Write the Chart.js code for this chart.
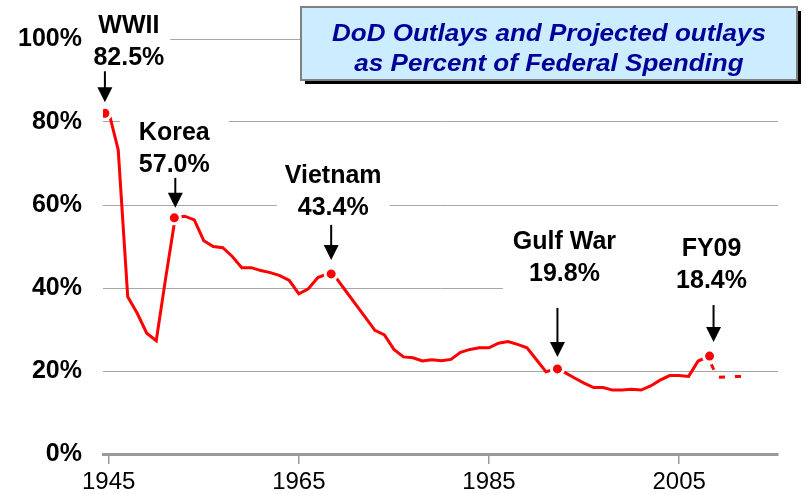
<!DOCTYPE html>
<html><head><meta charset="utf-8">
<script src="https://cdn.jsdelivr.net/npm/chart.js@4/dist/chart.umd.min.js"></script>
<style>html,body{margin:0;padding:0;background:#fff}</style>
</head><body>
<canvas id="c" width="806" height="494"></canvas>
<script>
// ---- data ----
const actualYears = [1945,1946,1947,1948,1949,1950,1951,1952,1953,1954,1955,1956,1957,1958,1959,1960,1961,1962,1963,1964,1965,1966,1967,1968,1969,1970,1971,1972,1973,1974,1975,1976,1977,1978,1979,1980,1981,1982,1983,1984,1985,1986,1987,1988,1989,1990,1991,1992,1993,1994,1995,1996,1997,1998,1999,2000,2001,2002,2003,2004,2005,2006,2007,2008];
const actualPct = [82.5,73.3,37.9,33.9,29.1,27.3,42.5,57.0,57.3,56.4,51.4,50.0,49.7,47.6,44.9,44.9,44.2,43.7,43.0,41.8,38.6,39.8,42.5,43.4,42.2,39.1,36.0,32.9,29.8,28.7,25.2,23.4,23.2,22.4,22.7,22.5,22.8,24.5,25.2,25.6,25.6,26.7,27.1,26.4,25.6,22.7,19.8,20.5,19.6,18.3,17.1,16.0,16.0,15.4,15.4,15.6,15.4,16.4,17.8,18.9,18.9,18.7,22.4,23.4];
const projectedYears = [2008,2009,2010,2011,2012];
const projectedPct = [23.6,18.5,18.6,18.7,18.7];
const markerYears = [1944.6,1951.9,1968.4,1992.2,2008.2];
const markerPct = [82.1,56.9,43.4,20.5,23.6];
const eventNames = ["WWII","Korea","Vietnam","Gulf War","FY09"];
const eventLabels = ["82.5%","57.0%","43.4%","19.8%","18.4%"];
const xTickYears = [1945,1965,1985,2005];
const yTickValues = [0,20,40,60,80,100];
const titleLines = ["DoD Outlays and Projected outlays","as Percent of Federal Spending"];

// ---- layout / style (pixel offsets relative to each marker) ----
const annLayout = [
  {arrowDx:0, tipGap:11, len:31, textDx:24, base2Gap:6, padL:6, padR:6},
  {arrowDx:1, tipGap:10, len:30, textDx:0, base2Gap:6, padL:19, padR:19},
  {arrowDx:0, tipGap:14, len:35, textDx:2, base2Gap:10, padL:8, padR:8},
  {arrowDx:0, tipGap:12, len:49, textDx:7, base2Gap:27, padL:10, padR:56},
  {arrowDx:4, tipGap:14, len:37, textDx:2, base2Gap:17, padL:12, padR:32}
];
const FONT = "'Liberation Sans', Arial, sans-serif";

const annotPlugin = {
  id: 'annot',
  beforeDatasetsDraw(chart) {
    const ctx = chart.ctx, xs = chart.scales.x, ys = chart.scales.y;
    ctx.save();
    ctx.font = "bold 25px " + FONT;
    eventNames.forEach((n, i) => {
      const L = annLayout[i];
      const mx = xs.getPixelForValue(markerYears[i]), my = ys.getPixelForValue(markerPct[i]);
      const start = my - L.tipGap - L.len;
      const b2 = start - L.base2Gap, b1 = b2 - 32;
      const cx = mx + L.textDx;
      const w = Math.max(ctx.measureText(n).width, ctx.measureText(eventLabels[i]).width);
      ctx.fillStyle = '#fff';
      ctx.fillRect(cx - w/2 - L.padL, b1 - 22, w + L.padL + L.padR, (b2 + 10) - (b1 - 22));
    });
    ctx.restore();
  },
  afterDatasetsDraw(chart) {
    const ctx = chart.ctx, xs = chart.scales.x, ys = chart.scales.y;
    ctx.save();
    ctx.font = "bold 25px " + FONT;
    ctx.textAlign = 'center';
    ctx.textBaseline = 'alphabetic';
    eventNames.forEach((n, i) => {
      const L = annLayout[i];
      const mx = xs.getPixelForValue(markerYears[i]), my = ys.getPixelForValue(markerPct[i]);
      const ax = mx + L.arrowDx;
      const tip = my - L.tipGap, start = tip - L.len;
      const b2 = start - L.base2Gap, b1 = b2 - 32;
      const cx = mx + L.textDx;
      ctx.fillStyle = '#000';
      ctx.fillText(n, cx, b1);
      ctx.fillText(eventLabels[i], cx, b2);
      ctx.strokeStyle = '#000';
      ctx.lineWidth = 2;
      ctx.beginPath();
      ctx.moveTo(ax, start);
      ctx.lineTo(ax, tip - 12);
      ctx.stroke();
      ctx.beginPath();
      ctx.moveTo(ax - 7.5, tip - 15);
      ctx.lineTo(ax + 7.5, tip - 15);
      ctx.lineTo(ax, tip);
      ctx.closePath();
      ctx.fill();
    });
    ctx.restore();
  },
  afterDraw(chart) {
    const ctx = chart.ctx;
    ctx.save();
    const bx = 301, by = 7, bw = 496, bh = 73;
    ctx.fillStyle = '#000';
    ctx.fillRect(bx + 4, by + 4, bw, bh);
    ctx.fillStyle = '#CCECFF';
    ctx.fillRect(bx, by, bw, bh);
    ctx.strokeStyle = '#808080';
    ctx.lineWidth = 2;
    ctx.strokeRect(bx, by, bw, bh);
    ctx.fillStyle = '#000099';
    ctx.font = "italic bold 24px " + FONT;
    ctx.textAlign = 'center';
    const cx = bx + bw/2, sx = 1.085;
    ctx.translate(cx, 0);
    ctx.scale(sx, 1);
    ctx.fillText(titleLines[0], 0, 41);
    ctx.fillText(titleLines[1], 0, 71);
    ctx.restore();
  }
};

new Chart(document.getElementById('c'), {
  type: 'line',
  data: {
    datasets: [
      { data: markerYears.map((x, i) => ({x, y: markerPct[i]})), showLine: false,
        pointRadius: 6, pointBorderWidth: 3, pointBackgroundColor: '#FF0000', pointBorderColor: '#FFFFFF', order: 1 },
      { data: actualYears.map((x, i) => ({x, y: actualPct[i]})), borderColor: '#FF0000', borderWidth: 3,
        pointRadius: 0, tension: 0, fill: false, order: 3 },
      { data: projectedYears.map((x, i) => ({x, y: projectedPct[i]})), borderColor: '#FF0000', borderWidth: 3,
        borderDash: [6, 10], borderDashOffset: 7, pointRadius: 0, tension: 0, fill: false, order: 2 }
    ]
  },
  options: {
    responsive: false, animation: false, devicePixelRatio: 1,
    layout: { padding: { left: 0, right: 28, top: 39, bottom: 0 } },
    plugins: { legend: { display: false }, tooltip: { enabled: false } },
    scales: {
      x: {
        type: 'linear', min: 1944.4, max: 2015.4,
        afterBuildTicks: s => { s.ticks = xTickYears.map(v => ({ value: v })); },
        afterFit: s => { s.height = 40; },
        grid: { drawOnChartArea: false, drawTicks: true, tickLength: 10, color: '#999999', lineWidth: 1.5 },
        border: { display: true, color: '#999999', width: 3 },
        ticks: { font: { family: FONT, size: 24 }, color: '#000', padding: 4, maxRotation: 0,
                 autoSkip: false, callback: v => String(v) }
      },
      y: {
        min: 0, max: 100,
        afterBuildTicks: s => { s.ticks = yTickValues.map(v => ({ value: v })); },
        afterFit: s => { s.width = 103; },
        grid: { color: '#a6a6a6', lineWidth: 1, drawTicks: false },
        border: { display: false },
        ticks: { font: { family: FONT, size: 25, weight: 'bold' }, color: '#000', padding: 21,
                 callback: v => v + '%' }
      }
    }
  },
  plugins: [annotPlugin]
});
</script>
</body></html>
